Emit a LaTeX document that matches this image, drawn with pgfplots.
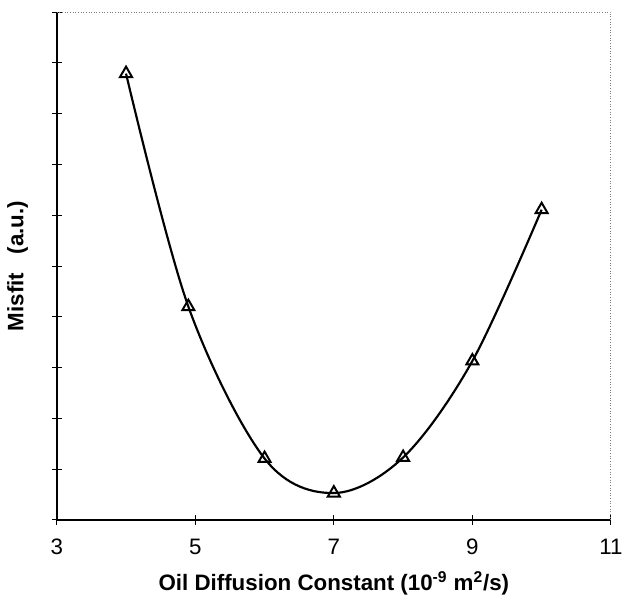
\documentclass[border=0pt]{standalone}
\usepackage{fontspec}
\setmainfont{Liberation Sans}
\usepackage{pgfplots}
\pgfplotsset{compat=1.18}
\begin{document}
\begin{tikzpicture}
\begin{axis}[
  scale only axis, width=335pt, height=307pt,
  xmin=3, xmax=11, ymin=0, ymax=10,
  xtick={3,5,7,9,11}, ytick={0,1,...,10}, yticklabels={},
  axis x line*=bottom, axis y line*=left,
  axis line style={line width=0.9pt,-},
  tick align=center, major tick length=6pt,
  tick style={line width=0.6pt,black},
  /pgf/number format/assume math mode=true,
  tick label style={font=\fontsize{13.5}{16}\selectfont},
  xticklabel style={yshift=-5pt},
  xlabel={\textbf{Oil Diffusion Constant (10\textsuperscript{-9} m\textsuperscript{2}/s)}},
  ylabel={\textbf{Misfit\ \ \ (a.u.)}},
  label style={font=\fontsize{13.5}{16}\selectfont},
  xlabel style={yshift=-3pt},
  ylabel style={yshift=4pt},
  clip=false,
]
\draw[gray, densely dotted, line width=0.6pt] (rel axis cs:0,1) -- (rel axis cs:1,1) -- (rel axis cs:1,0);
\addplot[black, line width=1.3pt, smooth, tension=0.55, mark=triangle, mark size=4.2pt,
  mark options={solid, fill=white, line width=1.2pt}]
  coordinates {(4,8.79) (4.9,4.2) (6,1.21) (7,0.53) (8,1.23) (9,3.13) (10,6.11)};
\end{axis}
\path (current bounding box.north west) ++(-1pt,4pt);
\end{tikzpicture}
\end{document}
